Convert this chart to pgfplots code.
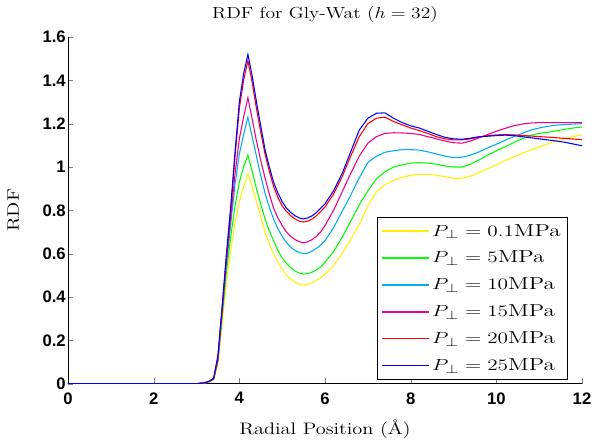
\documentclass[border=0pt]{standalone}
\usepackage{fontspec}
\usepackage{graphicx}
\usepackage{pgfplots}
\pgfplotsset{compat=1.18}
\newfontfamily\ticksfont{Liberation Sans}
\newcommand{\sx}[1]{\scalebox{1.22}[1]{#1}}
\newcommand{\lx}[1]{\scalebox{1.33}[1]{#1}}
\begin{document}
\begin{tikzpicture}
\useasboundingbox (-51pt,-43.5pt) rectangle (404.25pt,287.75pt);
\begin{axis}[
  scale only axis, width=385.5pt, height=260pt,
  xmin=0, xmax=12, ymin=0, ymax=1.6,
  axis x line*=bottom, axis y line*=left,
  tick align=inside, major tick length=4pt,
  xtick={0,2,...,12}, ytick={0,0.2,...,1.6},
  /pgf/number format/assume math mode=true,
  tick label style={font=\ticksfont\bfseries\fontsize{12.5}{14}\selectfont},
  y tick label style={inner sep=1.5pt},
  x tick label style={yshift=-3pt},
  title={\sx{RDF for Gly-Wat ($h=32$)}},
  title style={font=\fontsize{12}{14}\selectfont, anchor=base, at={(0.5,1)}, yshift=7.5pt},
  xlabel={\sx{Radial Position (Å)}},
  ylabel={\sx{RDF}},
  label style={font=\fontsize{12.5}{14}\selectfont},
  xlabel style={at={(0.5,0)}, anchor=base, yshift=-38pt},
  ylabel style={at={(0,0.5)}, anchor=center, yshift=41pt},
  every axis plot/.append style={line width=0.8pt},
  legend cell align=left,
  legend style={at={(0.972,0.012)}, anchor=south east, draw=black, fill=white,
    font=\fontsize{13}{15}\selectfont, row sep=5.8pt, inner xsep=3pt, inner ysep=3pt},
  legend image code/.code={\draw[#1, line width=1.1pt] (0pt,0pt) -- (35pt,0pt);},
]
\addplot[color=yellow] coordinates {(0,0)(3.0,0)(3.1,0.001)(3.2,0.004)(3.3,0.008)(3.4,0.018)(3.5,0.09)(3.6,0.28)(3.7,0.47)(3.8,0.62)(3.9,0.74)(4.0,0.84)(4.1,0.91)(4.2,0.97)(4.3,0.91)(4.4,0.84)(4.5,0.77)(4.6,0.7)(4.7,0.645)(4.8,0.6)(4.9,0.56)(5.0,0.53)(5.1,0.5)(5.2,0.482)(5.3,0.468)(5.4,0.458)(5.5,0.455)(5.6,0.458)(5.7,0.466)(5.8,0.478)(5.9,0.49)(6.0,0.505)(6.2,0.545)(6.4,0.6)(6.6,0.665)(6.8,0.735)(7.0,0.82)(7.2,0.885)(7.4,0.918)(7.6,0.938)(7.8,0.952)(8.0,0.962)(8.2,0.966)(8.4,0.966)(8.6,0.962)(8.8,0.955)(9.0,0.948)(9.2,0.948)(9.4,0.958)(9.6,0.975)(9.8,0.992)(10.0,1.01)(10.2,1.03)(10.4,1.045)(10.6,1.062)(10.8,1.078)(11.0,1.092)(11.2,1.107)(11.4,1.12)(11.6,1.13)(11.8,1.14)(12.0,1.15)};
\addlegendentry{\lx{$P_\perp = 0.1$MPa}}
\addplot[color=green] coordinates {(0,0)(3.0,0)(3.1,0.002)(3.2,0.004)(3.3,0.009)(3.4,0.02)(3.5,0.1)(3.6,0.31)(3.7,0.52)(3.8,0.68)(3.9,0.82)(4.0,0.93)(4.1,1.0)(4.2,1.056)(4.3,0.98)(4.4,0.9)(4.5,0.83)(4.6,0.76)(4.7,0.705)(4.8,0.66)(4.9,0.615)(5.0,0.58)(5.1,0.555)(5.2,0.535)(5.3,0.52)(5.4,0.51)(5.5,0.506)(5.6,0.508)(5.7,0.515)(5.8,0.525)(5.9,0.54)(6.0,0.56)(6.2,0.61)(6.4,0.675)(6.6,0.75)(6.8,0.825)(7.0,0.89)(7.2,0.945)(7.4,0.978)(7.6,1.0)(7.8,1.01)(8.0,1.018)(8.2,1.02)(8.4,1.018)(8.6,1.013)(8.8,1.005)(9.0,1.0)(9.2,1.0)(9.4,1.013)(9.6,1.033)(9.8,1.055)(10.0,1.075)(10.2,1.093)(10.4,1.112)(10.6,1.13)(10.8,1.145)(11.0,1.155)(11.2,1.16)(11.4,1.167)(11.6,1.174)(11.8,1.18)(12.0,1.185)};
\addlegendentry{\lx{$P_\perp = 5$MPa}}
\addplot[color=cyan] coordinates {(0,0)(3.0,0)(3.1,0.002)(3.2,0.005)(3.3,0.01)(3.4,0.021)(3.5,0.11)(3.6,0.33)(3.7,0.55)(3.8,0.74)(3.9,0.92)(4.0,1.06)(4.1,1.15)(4.2,1.23)(4.3,1.14)(4.4,1.05)(4.5,0.96)(4.6,0.88)(4.7,0.815)(4.8,0.76)(4.9,0.715)(5.0,0.68)(5.1,0.652)(5.2,0.63)(5.3,0.615)(5.4,0.605)(5.5,0.6)(5.6,0.603)(5.7,0.612)(5.8,0.625)(5.9,0.64)(6.0,0.66)(6.2,0.72)(6.4,0.795)(6.6,0.87)(6.8,0.95)(7.0,1.02)(7.2,1.05)(7.4,1.068)(7.6,1.075)(7.8,1.08)(8.0,1.08)(8.2,1.078)(8.4,1.07)(8.6,1.06)(8.8,1.05)(9.0,1.044)(9.2,1.045)(9.4,1.055)(9.6,1.07)(9.8,1.088)(10.0,1.105)(10.2,1.123)(10.4,1.14)(10.6,1.155)(10.8,1.17)(11.0,1.18)(11.2,1.188)(11.4,1.193)(11.6,1.196)(11.8,1.198)(12.0,1.2)};
\addlegendentry{\lx{$P_\perp = 10$MPa}}
\addplot[color=magenta] coordinates {(0,0)(3.0,0)(3.1,0.002)(3.2,0.005)(3.3,0.011)(3.4,0.022)(3.5,0.11)(3.6,0.34)(3.7,0.57)(3.8,0.77)(3.9,0.97)(4.0,1.13)(4.1,1.23)(4.2,1.32)(4.3,1.22)(4.4,1.12)(4.5,1.03)(4.6,0.95)(4.7,0.875)(4.8,0.81)(4.9,0.765)(5.0,0.73)(5.1,0.7)(5.2,0.68)(5.3,0.665)(5.4,0.655)(5.5,0.65)(5.6,0.655)(5.7,0.665)(5.8,0.68)(5.9,0.7)(6.0,0.73)(6.2,0.8)(6.4,0.885)(6.6,0.97)(6.8,1.05)(7.0,1.11)(7.2,1.14)(7.4,1.155)(7.6,1.158)(7.8,1.157)(8.0,1.155)(8.2,1.15)(8.4,1.14)(8.6,1.13)(8.8,1.12)(9.0,1.112)(9.2,1.11)(9.4,1.12)(9.6,1.135)(9.8,1.15)(10.0,1.165)(10.2,1.178)(10.4,1.19)(10.6,1.198)(10.8,1.203)(11.0,1.205)(11.2,1.205)(11.4,1.205)(11.6,1.205)(11.8,1.205)(12.0,1.205)};
\addlegendentry{\lx{$P_\perp = 15$MPa}}
\addplot[color=red] coordinates {(0,0)(3.0,0)(3.1,0.002)(3.2,0.005)(3.3,0.011)(3.4,0.023)(3.5,0.12)(3.6,0.35)(3.7,0.59)(3.8,0.8)(3.9,1.05)(4.0,1.27)(4.1,1.4)(4.2,1.49)(4.3,1.39)(4.4,1.27)(4.5,1.16)(4.6,1.06)(4.7,0.98)(4.8,0.91)(4.9,0.86)(5.0,0.82)(5.1,0.795)(5.2,0.775)(5.3,0.76)(5.4,0.75)(5.5,0.746)(5.6,0.75)(5.7,0.76)(5.8,0.775)(5.9,0.795)(6.0,0.815)(6.2,0.875)(6.4,0.955)(6.6,1.05)(6.8,1.14)(7.0,1.2)(7.2,1.225)(7.4,1.23)(7.6,1.21)(7.8,1.195)(8.0,1.18)(8.2,1.168)(8.4,1.155)(8.6,1.14)(8.8,1.13)(9.0,1.125)(9.2,1.125)(9.4,1.13)(9.6,1.138)(9.8,1.145)(10.0,1.148)(10.2,1.15)(10.4,1.148)(10.6,1.146)(10.8,1.143)(11.0,1.14)(11.2,1.138)(11.4,1.135)(11.6,1.132)(11.8,1.129)(12.0,1.126)};
\addlegendentry{\lx{$P_\perp = 20$MPa}}
\addplot[color=blue] coordinates {(0,0)(3.0,0)(3.1,0.002)(3.2,0.005)(3.3,0.012)(3.4,0.025)(3.5,0.13)(3.6,0.36)(3.7,0.6)(3.8,0.82)(3.9,1.07)(4.0,1.3)(4.1,1.43)(4.2,1.52)(4.3,1.42)(4.4,1.3)(4.5,1.19)(4.6,1.08)(4.7,1.0)(4.8,0.93)(4.9,0.88)(5.0,0.84)(5.1,0.81)(5.2,0.79)(5.3,0.775)(5.4,0.765)(5.5,0.76)(5.6,0.765)(5.7,0.775)(5.8,0.79)(5.9,0.81)(6.0,0.83)(6.2,0.89)(6.4,0.97)(6.6,1.07)(6.8,1.17)(7.0,1.225)(7.2,1.248)(7.4,1.25)(7.6,1.225)(7.8,1.205)(8.0,1.19)(8.2,1.18)(8.4,1.165)(8.6,1.15)(8.8,1.137)(9.0,1.13)(9.2,1.128)(9.4,1.133)(9.6,1.14)(9.8,1.142)(10.0,1.145)(10.2,1.147)(10.4,1.145)(10.6,1.14)(10.8,1.135)(11.0,1.13)(11.2,1.125)(11.4,1.12)(11.6,1.114)(11.8,1.106)(12.0,1.098)};
\addlegendentry{\lx{$P_\perp = 25$MPa}}
\end{axis}
\end{tikzpicture}
\end{document}
